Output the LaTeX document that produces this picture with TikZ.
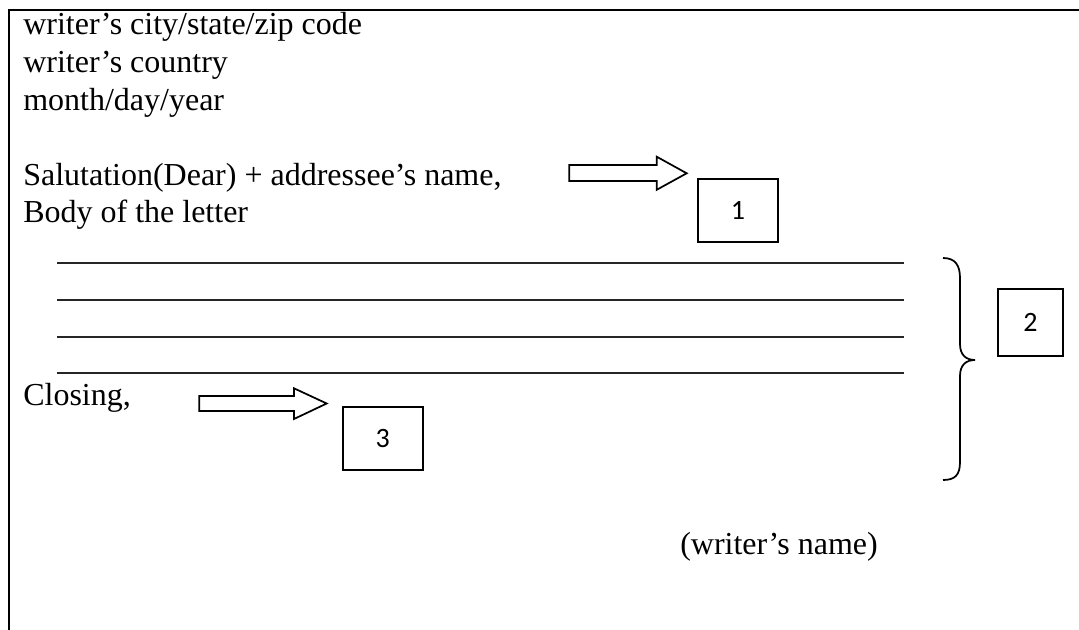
\documentclass[tikz,border=0pt]{standalone}
\usepackage{fontspec}
\setmainfont{Liberation Serif}
\newfontfamily\boxfont{Carlito}
\begin{document}
\begin{tikzpicture}[x=0.75pt,y=-0.75pt,
  txt/.style={anchor=base west,inner sep=0pt,font=\fontsize{24}{30}\selectfont},
  numbox/.style={draw,line width=1.3pt,inner sep=0pt,font=\boxfont\fontsize{21}{24}\selectfont},
  blockarrow/.style={draw,fill=white,line width=1.3pt,line join=miter},
  rulel/.style={line width=1.5pt,draw=black!85},
  frame/.style={line width=1.5pt}]
\useasboundingbox (0,0) rectangle (1079,630);
% frame
\draw[frame] (9,630) -- (9,10) -- (1079,10);
% text lines
\node[txt] (l1) at (23,35) {writer’s city/state/zip code};
\node[txt] (l2) at (23,72.6) {writer’s country};
\node[txt] (l3) at (23,110.2) {month/day/year};
\node[txt] (sal) at (23,185.4) {Salutation(Dear) + addressee’s name,};
\node[txt] (body) at (23,223) {Body of the letter};
\node[txt] (clo) at (23,406) {Closing,};
\node[txt] (wn) at (680,555) {(writer’s name)};
% writing lines
\foreach \yy in {262.7,300,336.7,372.7}
  \draw[rulel] (57,\yy) -- (904,\yy);
% numbered boxes
\node[numbox,minimum width=59.5pt,minimum height=47.2pt] (b1) at (738,210.8) {1};
\node[numbox,minimum width=48.7pt,minimum height=50.2pt] (b2) at (1030.5,322.5) {2};
\node[numbox,minimum width=60pt,minimum height=47pt] (b3) at (382.7,438.7) {3};
% block arrows
\draw[blockarrow] (569.3,165) -- (656.7,165) -- (656.7,156.7) -- (686.7,173.3) -- (656.7,189.8) -- (656.7,181) -- (569.3,181) -- cycle;
\draw[blockarrow] (199.3,396) -- (294,396) -- (294,388.3) -- (326.7,403.5) -- (294,419) -- (294,411) -- (199.3,411) -- cycle;
% brace
\draw[line width=1.3pt] (943,258) .. controls (955,258) and (960,265) .. (960,278)
  -- (960,344) .. controls (960,355) and (966,360) .. (975,360)
  .. controls (966,360) and (960,365) .. (960,376)
  -- (960,462) .. controls (960,475) and (955,480) .. (943,480);
\end{tikzpicture}
\end{document}
